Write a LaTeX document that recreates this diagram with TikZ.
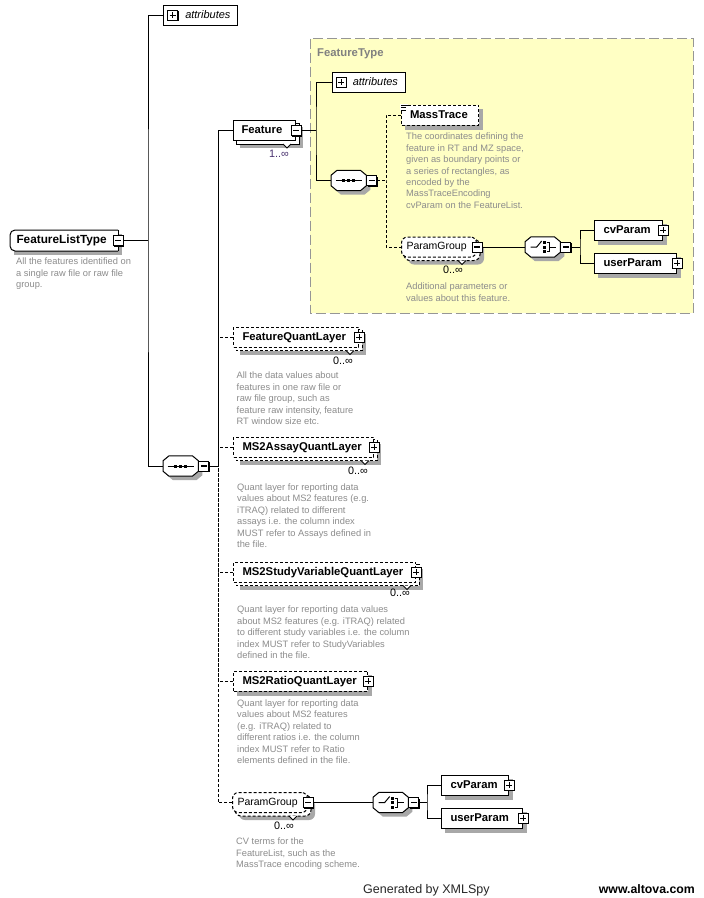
\documentclass[tikz,border=0pt]{standalone}
\usepackage{fontspec}
\setmainfont{Liberation Sans}
\usetikzlibrary{calc}
\pgfdeclarelayer{ybg}
\pgfdeclarelayer{shd}
\pgfdeclarelayer{back}
\pgfsetlayers{ybg,shd,back,main}
\definecolor{descc}{RGB}{140,140,140}
\definecolor{shadowc}{RGB}{168,168,168}
\definecolor{yelc}{RGB}{255,255,196}
\definecolor{ftborder}{RGB}{150,150,150}
\definecolor{fttext}{RGB}{128,128,128}
\definecolor{multc}{RGB}{72,48,110}
\tikzset{
  lblfont/.style={font=\fontsize{11.3}{13}\selectfont\bfseries, text height=8.7pt, text depth=2.5pt},
  elem/.style={draw, fill=white, line width=1pt, minimum height=20pt, inner ysep=0pt, anchor=west, align=left, lblfont},
  optelem/.style={elem, dash pattern=on 3pt off 2pt},
  attrbox/.style={draw, fill=white, line width=1pt, minimum height=20pt, inner ysep=0pt, inner xsep=7pt, anchor=west, align=right, font=\fontsize{11}{13}\selectfont\itshape, text height=8.5pt, text depth=2.5pt},
  grpbox/.style={draw, fill=white, line width=1pt, minimum height=20pt, inner ysep=0pt, anchor=west, align=left, rounded corners=6pt, dash pattern=on 3pt off 2pt, font=\fontsize{10.5}{12}\selectfont, text height=8.3pt, text depth=2.4pt},
  comp/.style={minimum width=35pt, minimum height=20pt, inner sep=0pt, anchor=west},
  pmbox/.style={draw, fill=white, line width=1pt, minimum size=10pt, inner sep=0pt, preaction={fill=black, transform canvas={shift={(1pt,-1pt)}}}},
  minusbox/.style={pmbox, path picture={\draw[line width=1.2pt] ([xshift=2pt]path picture bounding box.west) -- ([xshift=-2pt]path picture bounding box.east);}},
  plusbox/.style={pmbox, path picture={\draw[line width=1pt] ([xshift=2pt]path picture bounding box.west) -- ([xshift=-2pt]path picture bounding box.east); \draw[line width=1pt] ([yshift=-2pt]path picture bounding box.north) -- ([yshift=2pt]path picture bounding box.south);}},
  desc/.style={anchor=north west, inner sep=0pt, align=left, text=descc, font=\fontsize{9.3}{11.4}\selectfont},
  mult/.style={anchor=east, inner sep=0pt, font=\fontsize{10.8}{12}\selectfont},
  conn/.style={line width=1pt},
  dconn/.style={line width=1pt, dash pattern=on 3pt off 2pt},
}
% shadow of a box node: #1 offset, #2 node, #3 extra options
\newcommand\boxshadow[3][4]{\begin{pgfonlayer}{shd}\fill[shadowc,#3] ($(#2.north west)+(#1,#1)$) rectangle ($(#2.south east)+(#1,#1)$);\end{pgfonlayer}}
% back copy of a repeated node
\newcommand\backcopy[3][0]{\begin{pgfonlayer}{back}\draw[fill=white, line width=1pt, #3] ($(#2.north west)+(3,3)$) rectangle ($(#2.south east)+(3,3)$);
  \filldraw[fill=white, line width=0.8pt] ($(#2.south east)+(-13-#1,3)$) -- ++(4,4) -- ++(4,-4);\end{pgfonlayer}}
% octagon of a compositor
\newcommand\octfill[3]{\path[#3] ($(#1.north west)+(6+#2,#2)$) -- ($(#1.north east)+(-6+#2,#2)$) -- ($(#1.north east)+(#2,5+#2)$) -- ($(#1.south east)+(#2,-5+#2)$) -- ($(#1.south east)+(-6+#2,#2)$) -- ($(#1.south west)+(6+#2,#2)$) -- ($(#1.south west)+(#2,-5+#2)$) -- ($(#1.north west)+(#2,5+#2)$) -- cycle;}
\newcommand\compbody[1]{\begin{pgfonlayer}{shd}\octfill{#1}{4}{fill=shadowc}\end{pgfonlayer}\begin{pgfonlayer}{back}\octfill{#1}{0}{draw, fill=white, line width=1pt}\end{pgfonlayer}}
\newcommand\seqsym[1]{\begin{scope}[shift={(#1.center)}]
  \draw[line width=1pt] (-13,0) -- (13,0);
  \fill (-6.5,-1.5) rectangle +(3,3); \fill (-1.5,-1.5) rectangle +(3,3); \fill (3.5,-1.5) rectangle +(3,3);
\end{scope}}
\newcommand\choicesym[1]{\begin{scope}[shift={(#1.center)}]
  \draw[line width=1pt] (-12,0) -- (-6,0) -- (-1,-6);
  \fill (0,-6) rectangle +(3,3); \fill (0,-1.5) rectangle +(3,3); \fill (0,3) rectangle +(3,3);
  \draw[line width=1pt] (4,-4.5) -- (7,-4.5) -- (7,4.5) -- (4,4.5);
  \draw[line width=1pt] (7,0) -- (13,0);
\end{scope}}
\begin{document}
\begin{tikzpicture}[x=1pt,y=-1pt,line width=1pt]
\useasboundingbox (0,0) rectangle (704,898);
\begin{pgfonlayer}{ybg}
  \fill[white] (0,0) rectangle (704,898);
  \draw[fill=yelc, draw=ftborder, dash pattern=on 10pt off 4pt, line width=1pt] (310,38.5) rectangle (693,313);
\end{pgfonlayer}
\node[anchor=base west, inner sep=0pt, text=fttext, font=\fontsize{11.3}{13}\selectfont\bfseries] (fttitle) at (317,56) {FeatureType};

% ---------- root ----------
\node[elem, draw=none, text width=95pt, inner xsep=6pt, font=\fontsize{11.8}{13}\selectfont\bfseries] (flt) at (10,240.5) {FeatureListType};
\draw[line width=1pt, rounded corners=5pt] (flt.north east) -- (flt.north west) -- (flt.south west) -- (flt.south east);
\draw[line width=1pt] (flt.north east) -- (flt.south east);
\node[minusbox] (fltm) at (flt.east) {};
\boxshadow{flt}{}
\node[desc] (fltd) at (16,258) {All the features identified on\\a single raw file or raw file\\group.};

\node[attrbox, text width=60pt] (attr1) at (163,15) {attributes};
\node[plusbox] (attr1p) at ([xshift=9.5pt]attr1.west) {};

\node[comp] (seq1) at (163,466) {};
\compbody{seq1}
\seqsym{seq1}
\node[minusbox, anchor=west] (seq1m) at (seq1.east) {};

% ---------- Feature ----------
\node[elem, text width=46pt, inner xsep=8pt] (feat) at (233,130.5) {Feature};
\node[minusbox] (featm) at (feat.east) {};
\backcopy{feat}{}
\boxshadow[7]{feat}{}
\node[mult, text=multc] (featn) at (289,154) {1..∞};

\node[attrbox, text width=59pt] (attr2) at (331.5,82) {attributes};
\node[plusbox] (attr2p) at ([xshift=9.5pt]attr2.west) {};

\node[comp] (seq2) at (331,180.5) {};
\compbody{seq2}
\seqsym{seq2}
\node[minusbox, anchor=west] (seq2m) at (seq2.east) {};

\node[optelem, text width=60pt, inner xsep=8.5pt] (mass) at (401,115) {MassTrace};
\boxshadow{mass}{}
\fill[white] (400.3,104.3) rectangle (408,111.2);
\draw[line width=0.8pt] (401,105.5) -- (407.5,105.5) (401,107.7) -- (406,107.7) (401,109.9) -- (406,109.9);
\node[desc] (massd) at (406,133) {The coordinates defining the\\feature in RT and MZ space,\\given as boundary points or\\a series of rectangles, as\\encoded by the\\MassTraceEncoding\\cvParam on the FeatureList.};

\node[grpbox, text width=65pt, inner xsep=5pt] (pg1) at (401,247) {ParamGroup};
\node[minusbox] (pg1m) at (pg1.east) {};
\backcopy[6]{pg1}{rounded corners=6pt, dash pattern=on 3pt off 2pt}
\boxshadow[7]{pg1}{rounded corners=6pt}
\node[mult] (pg1n) at (463,270) {0..∞};
\node[desc] (pg1d) at (406,283) {Additional parameters or\\values about this feature.};

\node[comp] (ch1) at (525,247) {};
\compbody{ch1}
\choicesym{ch1}
\node[minusbox, anchor=west] (ch1m) at (ch1.east) {};

\node[elem, text width=50pt, inner xsep=9pt] (cv1) at (594,230) {cvParam};
\node[plusbox] (cv1p) at (cv1.east) {};
\boxshadow{cv1}{}
\node[elem, text width=64pt, inner xsep=9pt] (up1) at (594,263) {userParam};
\node[plusbox] (up1p) at (up1.east) {};
\boxshadow{up1}{}

% ---------- quant layers ----------
\node[optelem, text width=107pt, inner xsep=9pt] (fql) at (233,337) {FeatureQuantLayer};
\node[plusbox] (fqlp) at (fql.east) {};
\backcopy{fql}{dash pattern=on 3pt off 2pt}
\boxshadow[7]{fql}{}
\node[mult] (fqln) at (353,361) {0..∞};
\node[desc] (fqld) at (236.5,372) {All the data values about\\features in one raw file or\\raw file group, such as\\feature raw intensity, feature\\RT window size etc.};

\node[optelem, text width=122pt, inner xsep=9pt] (ms2a) at (233,447) {MS2AssayQuantLayer};
\node[plusbox] (ms2ap) at (ms2a.east) {};
\backcopy{ms2a}{dash pattern=on 3pt off 2pt}
\boxshadow[7]{ms2a}{}
\node[mult] (ms2an) at (368,471) {0..∞};
\node[desc] (ms2ad) at (237,483.5) {Quant layer for reporting data\\values about MS2 features (e.g.\\iTRAQ) related to different\\assays i.e. the column index\\MUST refer to Assays defined in\\the file.};

\node[optelem, text width=164pt, inner xsep=9pt] (ms2s) at (233,572) {MS2StudyVariableQuantLayer};
\node[plusbox] (ms2sp) at (ms2s.east) {};
\backcopy{ms2s}{dash pattern=on 3pt off 2pt}
\boxshadow[7]{ms2s}{}
\node[mult] (ms2sn) at (410,593) {0..∞};
\node[desc] (ms2sd) at (237,606) {Quant layer for reporting data values\\about MS2 features (e.g. iTRAQ) related\\to different study variables i.e. the column\\index MUST refer to StudyVariables\\defined in the file.};

\node[optelem, text width=116pt, inner xsep=9pt] (ms2r) at (233,681) {MS2RatioQuantLayer};
\node[plusbox] (ms2rp) at (ms2r.east) {};
\boxshadow{ms2r}{}
\node[desc] (ms2rd) at (237,699.5) {Quant layer for reporting data\\values about MS2 features\\(e.g. iTRAQ) related to\\different ratios i.e. the column\\index MUST refer to Ratio\\elements defined in the file.};

\node[grpbox, text width=65pt, inner xsep=5pt] (pg2) at (232,802.5) {ParamGroup};
\node[minusbox] (pg2m) at (pg2.east) {};
\backcopy[6]{pg2}{rounded corners=6pt, dash pattern=on 3pt off 2pt}
\boxshadow[7]{pg2}{rounded corners=6pt}
\node[mult] (pg2n) at (294,826) {0..∞};
\node[desc] (pg2d) at (236,838) {CV terms for the\\FeatureList, such as the\\MassTrace encoding scheme.};

\node[comp] (ch2) at (373,802.5) {};
\compbody{ch2}
\choicesym{ch2}
\node[minusbox, anchor=west] (ch2m) at (ch2.east) {};

\node[elem, text width=49pt, inner xsep=9pt] (cv2) at (441,785) {cvParam};
\node[plusbox] (cv2p) at (cv2.east) {};
\boxshadow{cv2}{}
\node[elem, text width=63pt, inner xsep=9pt] (up2) at (441,818) {userParam};
\node[plusbox] (up2p) at (up2.east) {};
\boxshadow{up2}{}

% ---------- connectors ----------
\coordinate (j1) at (148,240.5);
\coordinate (j2) at (218,466);
\coordinate (j3) at (316,130.5);
\coordinate (j4) at (386,180.5);
\coordinate (j5) at (580,247);
\coordinate (j6) at (427,802.5);

\draw[conn] (fltm.east) -- (j1);
\draw[conn] (attr1.west) -| (j1) |- (seq1.west);
\draw[conn] (seq1m.east) -- (j2);
\draw[dconn] (fql.west) -| (j2);
\draw[dconn] (ms2a.west) -| (j2);
\draw[dconn] (ms2s.west) -| (j2);
\draw[dconn] (ms2r.west) -| (j2);
\draw[dconn] (pg2.west) -| (j2);
\draw[conn] (feat.west) -| (j2);

\draw[conn] (featm.east) -- (j3);
\draw[conn] (attr2.west) -| (j3) |- (seq2.west);
\draw[dconn] (seq2m.east) -- (j4);
\draw[dconn] (mass.west) -| (j4) |- (pg1.west);
\draw[conn] (pg1m.east) -- (ch1.west);
\draw[conn] (ch1m.east) -- (j5);
\draw[conn] (cv1.west) -| (j5) |- (up1.west);

\draw[conn] (pg2m.east) -- (ch2.west);
\draw[conn] (ch2m.east) -- (j6);
\draw[conn] (cv2.west) -| (j6) |- (up2.west);

% ---------- footer ----------
\node[anchor=base west, inner sep=0pt, text=black!85, font=\fontsize{12.5}{14}\selectfont] (gen) at (363,893) {Generated by XMLSpy};
\node[anchor=base east, inner sep=0pt, font=\fontsize{12.3}{14}\selectfont\bfseries] (alt) at (695,893) {www.altova.com};
\end{tikzpicture}
\end{document}
